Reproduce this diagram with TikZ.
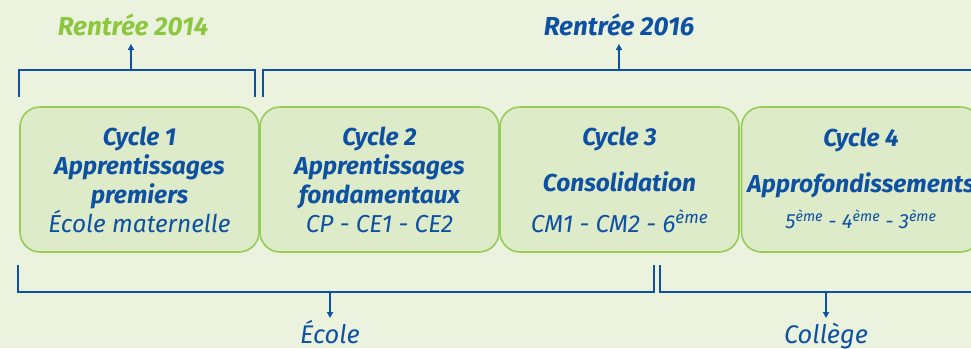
\documentclass[tikz,border=0pt]{standalone}
\usepackage{fontspec}
\setmainfont{Fira Sans}
\usetikzlibrary{arrows.meta}
\definecolor{bgcol}{RGB}{235,243,222}
\definecolor{boxfill}{RGB}{221,235,200}
\definecolor{boxline}{RGB}{150,204,88}
\definecolor{cycblue}{RGB}{14,80,162}
\definecolor{rgreen}{RGB}{141,198,63}
\begin{document}
\begin{tikzpicture}[x=1pt, y=-1pt,
  cyclebox/.style={draw=boxline, line width=1.6pt, fill=boxfill, rounded corners=20pt, minimum width=239pt, minimum height=145pt, inner sep=0pt},
  cyctext/.style={text=cycblue, align=center, font=\fontsize{24.5}{29}\selectfont\bfseries\itshape},
  bracket/.style={draw=cycblue, line width=1.8pt},
  arr/.style={draw=cycblue, line width=1.4pt, -{Triangle[length=6pt,width=6pt]}},
  toplabel/.style={font=\fontsize{26}{29}\selectfont\bfseries\itshape, anchor=base},
  botlabel/.style={text=cycblue, font=\fontsize{25.5}{29}\selectfont\itshape, anchor=base}]
	\clip (0,0) rectangle (971,348);
	\fill[bgcol] (0,0) rectangle (971,348);
	\node[cyclebox] (c1) at (139.5,179.5) {};
	\node[cyclebox] (c2) at (379.5,179.5) {};
	\node[cyclebox] (c3) at (619.5,179.5) {};
	\node[cyclebox] (c4) at (861,179.5) {};
	\node[cyctext] (t1) at (c1.center) {Cycle 1\\Apprentissages\\premiers\\{\mdseries École maternelle}};
	\node[cyctext] (t2) at (c2.center) {Cycle 2\\Apprentissages\\fondamentaux\\{\mdseries CP - CE1 - CE2}};
	\node[cyctext] (t3) at (c3.center) {Cycle 3\\[17pt]Consolidation\\[12pt]{\mdseries CM1 - CM2 - 6\textsuperscript{ème}}};
	\node[cyctext] (t4) at ([yshift=1pt]c4.center) {Cycle 4\\[17pt]Approfondissements\\[7pt]{\mdseries\fontsize{20.5}{20}\selectfont 5\textsuperscript{ème} - 4\textsuperscript{ème} - 3\textsuperscript{ème}}};
	\node[toplabel, text=rgreen] (r14) at (133,35) {Rentrée 2014};
	\node[toplabel, text=cycblue] (r16) at (619,35) {Rentrée 2016};
	\node[botlabel] (ecole) at (330,343) {École};
	\node[botlabel] (college) at (826,343) {Collège};
	\coordinate (t1m) at (131,70);
	\coordinate (t2m) at (619,70);
	\coordinate (b1m) at (330,292);
	\coordinate (b2m) at (826,292);
	\draw[bracket] (19,97) |- (t1m) -| (255,97);
	\draw[bracket] (263,97) |- (t2m) -- (980,70);
	\draw[bracket] (18,265) |- (b1m) -| (654,265);
	\draw[bracket] (660,265) |- (b2m) -- (980,292);
	\draw[arr] (t1m) -- (131,44);
	\draw[arr] (t2m) -- (619,44);
	\draw[arr] (b1m) -- (330,318);
	\draw[arr] (b2m) -- (826,318);
\end{tikzpicture}
\end{document}
